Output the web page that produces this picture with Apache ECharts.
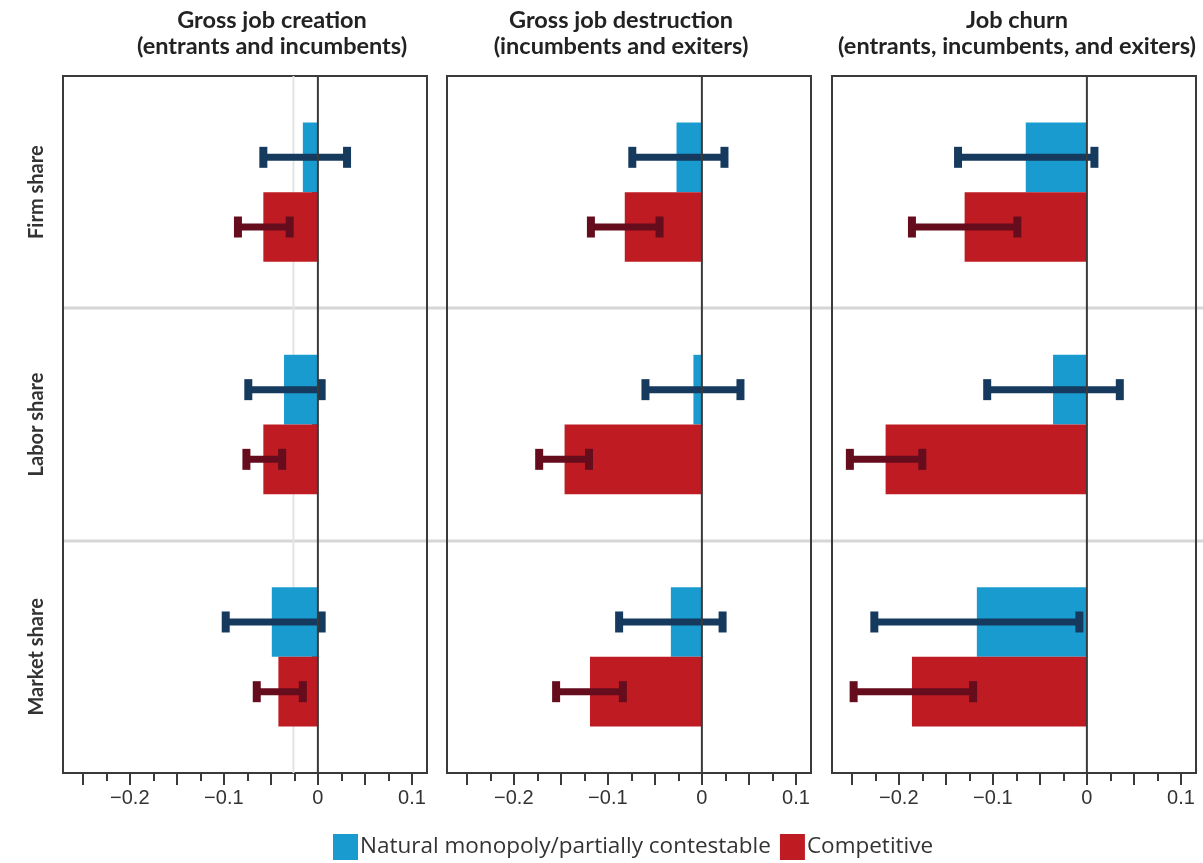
<!DOCTYPE html>
<html>
<head>
<meta charset="utf-8">
<script src="https://cdn.jsdelivr.net/npm/echarts@6/dist/echarts.min.js"></script>
<style>
  html, body { margin: 0; padding: 0; background: #fff; }
  #chart { width: 1203px; height: 863px; }
</style>
</head>
<body>
<div id="chart"></div>
<script>
// Row categories (top to bottom)
const categories = ['Firm share', 'Labor share', 'Market share'];

// Panel headings
const panelTitles = [
  'Gross job creation\n(entrants and incumbents)',
  'Gross job destruction\n(incumbents and exiters)',
  'Job churn\n(entrants, incumbents, and exiters)'
];

const seriesNames = ['Natural monopoly/partially contestable', 'Competitive'];

// Point estimates, one array per panel, ordered as categories
const monopolyCreation    = [-0.016, -0.036, -0.049];
const monopolyDestruction = [-0.027, -0.009, -0.033];
const monopolyChurn       = [-0.065, -0.036, -0.117];

const competitiveCreation    = [-0.058, -0.058, -0.042];
const competitiveDestruction = [-0.082, -0.146, -0.119];
const competitiveChurn       = [-0.130, -0.214, -0.186];

// Confidence intervals [low, high], ordered as categories
const monopolyCreationCI    = [[-0.058, 0.031], [-0.074, 0.004], [-0.098, 0.004]];
const monopolyDestructionCI = [[-0.074, 0.024], [-0.060, 0.041], [-0.088, 0.022]];
const monopolyChurnCI       = [[-0.137, 0.008], [-0.106, 0.035], [-0.226, -0.008]];

const competitiveCreationCI    = [[-0.085, -0.030], [-0.076, -0.038], [-0.065, -0.016]];
const competitiveDestructionCI = [[-0.118, -0.045], [-0.173, -0.120], [-0.155, -0.084]];
const competitiveChurnCI       = [[-0.186, -0.074], [-0.252, -0.175], [-0.248, -0.121]];

// Reference level shown in the job-creation panel
const creationReference = -0.026;

// Axis ticks
const majorTicks = [-0.25, -0.2, -0.15, -0.1, -0.05, 0, 0.05, 0.1];
const minorTicks = [-0.225, -0.175, -0.125, -0.075, -0.025, 0.025, 0.075];
const tickLabels = [-0.2, -0.1, 0, 0.1];

const monopolyValues = [monopolyCreation, monopolyDestruction, monopolyChurn];
const competitiveValues = [competitiveCreation, competitiveDestruction, competitiveChurn];
const monopolyCI = [monopolyCreationCI, monopolyDestructionCI, monopolyChurnCI];
const competitiveCI = [competitiveCreationCI, competitiveDestructionCI, competitiveChurnCI];

const COLORS = {
  monopoly: '#1a9bd0',
  competitive: '#be1b22',
  monopolyErr: '#153a5e',
  competitiveErr: '#660d1d',
  axis: '#3a3a3a',
  text: '#333333'
};

const FONT = 'Lato, "Open Sans", sans-serif';
const X_MIN = -0.271, X_MAX = 0.116;
const gridLefts = [63, 447, 832];
const gridWidth = 364;
const gridTop = 76, gridHeight = 697;
const titleCenters = [267, 616, 1012];

// horizontal interval with end caps, offset above (-1) or below (+1) the row centre
function errorRenderer(sign, color) {
  return function (params, api) {
    const cat = api.value(0);
    const lo = api.coord([api.value(1), cat]);
    const hi = api.coord([api.value(2), cat]);
    const band = api.size([0, 1])[1];
    const y = lo[1] + sign * band * 0.15;
    const lw = 7, capW = 8, capH = 21;
    return {
      type: 'group',
      children: [
        { type: 'rect', shape: { x: lo[0], y: y - lw / 2, width: hi[0] - lo[0], height: lw }, style: { fill: color } },
        { type: 'rect', shape: { x: lo[0] - capW / 2, y: y - capH / 2, width: capW, height: capH }, style: { fill: color } },
        { type: 'rect', shape: { x: hi[0] - capW / 2, y: y - capH / 2, width: capW, height: capH }, style: { fill: color } }
      ]
    };
  };
}

// full-height vertical line at a given x value
function vlineRenderer(color, width) {
  return function (params, api) {
    const cs = params.coordSys;
    const x = api.coord([api.value(0), 0])[0];
    return {
      type: 'line',
      shape: { x1: x, y1: cs.y, x2: x, y2: cs.y + cs.height },
      style: { stroke: color, lineWidth: width }
    };
  };
}

const grids = [], xAxes = [], yAxes = [], series = [], titles = [];

for (let p = 0; p < 3; p++) {
  grids.push({
    left: gridLefts[p], top: gridTop, width: gridWidth, height: gridHeight,
    show: true, borderColor: COLORS.axis, borderWidth: 2, backgroundColor: 'transparent'
  });

  // main value axis: long ticks and labels
  xAxes.push({
    type: 'value', gridIndex: p, min: X_MIN, max: X_MAX, position: 'bottom',
    splitLine: { show: false },
    axisLine: { show: true, lineStyle: { color: COLORS.axis, width: 2 } },
    axisTick: { show: true, customValues: majorTicks, length: 12, lineStyle: { color: COLORS.axis, width: 2 } },
    axisLabel: {
      customValues: tickLabels, fontSize: 20, color: COLORS.text, margin: 15,
      fontFamily: '"Liberation Sans", Arial, sans-serif',
      formatter: v => String(Math.round(v * 10) / 10).replace('-', '\u2212')
    }
  });
  // companion axis: short ticks
  xAxes.push({
    type: 'value', gridIndex: p, min: X_MIN, max: X_MAX, position: 'bottom',
    splitLine: { show: false },
    axisLine: { show: false },
    axisTick: { show: true, customValues: minorTicks, length: 8, lineStyle: { color: COLORS.axis, width: 2 } },
    axisLabel: { show: false }
  });

  yAxes.push({
    type: 'category', gridIndex: p, data: categories, inverse: true,
    axisLine: { show: false },
    splitLine: { show: false },
    axisTick: { show: p === 0, alignWithLabel: true, length: 6, lineStyle: { color: COLORS.axis, width: 2 } },
    axisLabel: {
      show: p === 0, rotate: 90, fontSize: 20, fontWeight: 'bold', color: COLORS.text,
      fontFamily: FONT, margin: 16
    }
  });

  const xi = p * 2;
  series.push({
    name: seriesNames[0], type: 'bar', xAxisIndex: xi, yAxisIndex: p,
    data: monopolyValues[p], barCategoryGap: '40%', barGap: '0%',
    itemStyle: { color: COLORS.monopoly }, z: 2
  });
  series.push({
    name: seriesNames[1], type: 'bar', xAxisIndex: xi, yAxisIndex: p,
    data: competitiveValues[p], barCategoryGap: '40%', barGap: '0%',
    itemStyle: { color: COLORS.competitive }, z: 2
  });
  series.push({
    type: 'custom', xAxisIndex: xi, yAxisIndex: p, z: 3,
    renderItem: errorRenderer(-1, COLORS.monopolyErr),
    data: monopolyCI[p].map((ci, i) => [i, ci[0], ci[1]]),
    encode: { x: [1, 2], y: 0 }, silent: true
  });
  series.push({
    type: 'custom', xAxisIndex: xi, yAxisIndex: p, z: 3,
    renderItem: errorRenderer(1, COLORS.competitiveErr),
    data: competitiveCI[p].map((ci, i) => [i, ci[0], ci[1]]),
    encode: { x: [1, 2], y: 0 }, silent: true
  });
  // zero line drawn over the bars
  series.push({
    type: 'custom', xAxisIndex: xi, yAxisIndex: p, z: 4, silent: true,
    renderItem: vlineRenderer(COLORS.axis, 2),
    data: [[0]], encode: { x: 0 }
  });

  titles.push({
    text: panelTitles[p], left: titleCenters[p], top: 2, textAlign: 'center',
    textStyle: { fontFamily: FONT, fontSize: 23.5, fontWeight: 'bold', color: '#222', lineHeight: 26 }
  });
}

// reference line behind the bars in the first panel
series.push({
  type: 'custom', xAxisIndex: 0, yAxisIndex: 0, z: 1, silent: true,
  renderItem: vlineRenderer('#e4e4e4', 2),
  data: [[creationReference]], encode: { x: 0 }
});

const chart = echarts.init(document.getElementById('chart'), null, { renderer: 'canvas' });
chart.setOption({
  animation: false,
  backgroundColor: '#fff',
  title: titles,
  legend: {
    data: seriesNames, left: 333, top: 834, padding: 0, icon: 'rect',
    itemWidth: 25, itemHeight: 26, itemGap: 9,
    textStyle: { fontFamily: '"Open Sans", sans-serif', fontSize: 22.5, color: COLORS.text, padding: [0, 0, 0, -3] }
  },
  grid: grids,
  xAxis: xAxes,
  yAxis: yAxes,
  series: series
});

// row separators spanning all panels
const centers = categories.map((c, i) => chart.convertToPixel({ yAxisIndex: 0 }, i));
const sepLines = [];
for (let i = 0; i < centers.length - 1; i++) {
  const y = Math.round((centers[i] + centers[i + 1]) / 2);
  sepLines.push({
    type: 'line', z: -1, silent: true,
    shape: { x1: gridLefts[0], y1: y, x2: chart.getWidth(), y2: y },
    style: { stroke: '#d6d6d6', lineWidth: 3 }
  });
}
chart.setOption({ graphic: sepLines });
</script>
</body>
</html>
